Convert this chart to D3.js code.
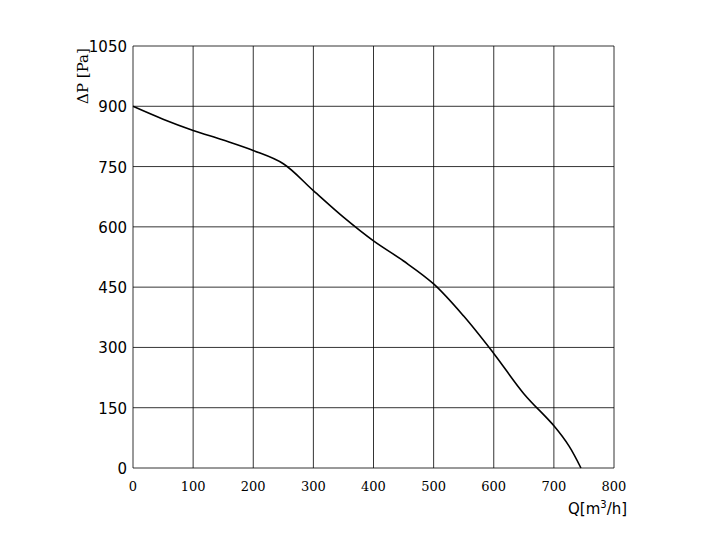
<!DOCTYPE html>
<html><head><meta charset="utf-8">
<script src="https://cdn.jsdelivr.net/npm/d3@7"></script>
<style>body{margin:0;background:#fff}</style></head>
<body><svg id="c" width="709" height="554"></svg>
<script>
const xTicks=[0,100,200,300,400,500,600,700,800];
const yTicks=[0,150,300,450,600,750,900,1050];
const flowQ=[0,50,100,150,200,250,300,350,400,450,500,550,600,650,700,725,745];
const pressureP=[900,868,840,816,790,757,690,624,565,515,458,378,285,185,105,55,0];
const svg=d3.select("#c");
const x=d3.scaleLinear().domain([0,800]).range([133,614]);
const y=d3.scaleLinear().domain([0,1050]).range([468,46]);
const g=svg.append("g");
xTicks.forEach(t=>g.append("line").attr("x1",x(t)).attr("x2",x(t)).attr("y1",y(0)).attr("y2",y(1050)).attr("stroke","#000").attr("stroke-width",0.8));
yTicks.forEach(t=>g.append("line").attr("x1",x(0)).attr("x2",x(800)).attr("y1",y(t)).attr("y2",y(t)).attr("stroke","#000").attr("stroke-width",0.8));
xTicks.forEach(t=>g.append("text").attr("x",x(t)).attr("y",491).attr("text-anchor","middle").attr("font-family","DejaVu Serif").attr("font-size",13).text(t));
yTicks.forEach(t=>g.append("text").attr("x",x(0)-6).attr("y",y(t)+6).attr("text-anchor","end").attr("font-family","DejaVu Sans").attr("font-size",15).text(t));
svg.append("text").attr("transform","translate(88,76) rotate(-90)").attr("text-anchor","middle").attr("font-family","DejaVu Serif").attr("font-size",15).text("ΔP  [Pa]");
const q=svg.append("text").attr("x",568).attr("y",514).attr("font-family","DejaVu Sans").attr("font-size",15);
q.append("tspan").text("Q[m");q.append("tspan").attr("dy",-6).attr("font-size",10).text("3");q.append("tspan").attr("dy",6).text("/h]");
const line=d3.line().x((d,i)=>x(flowQ[i])).y(d=>y(d)).curve(d3.curveCatmullRom.alpha(0.5));
svg.append("path").attr("d",line(pressureP)).attr("fill","none").attr("stroke","#000").attr("stroke-width",1.6);
</script></body></html>
